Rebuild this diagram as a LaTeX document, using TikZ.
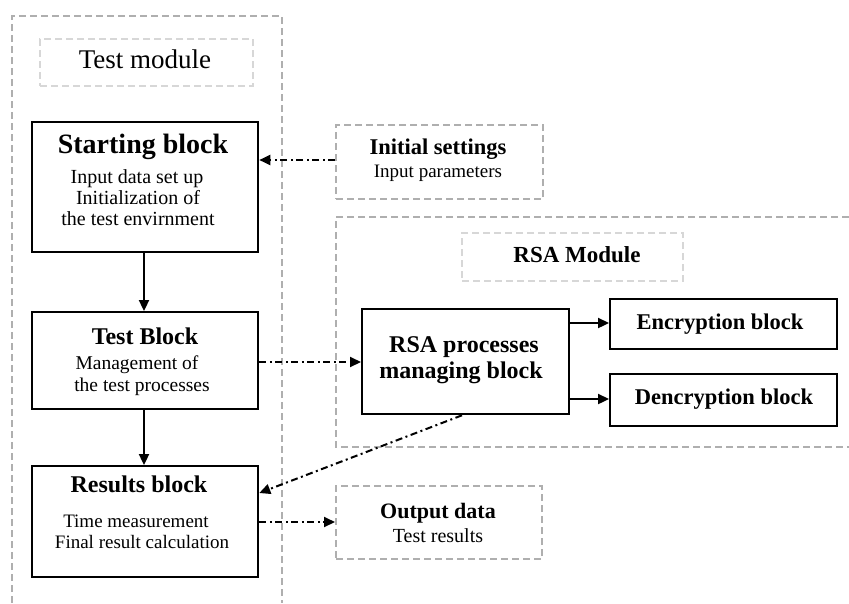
\documentclass[tikz,border=0pt]{standalone}
\usepackage{fontspec}
\setmainfont{Liberation Serif}
\usetikzlibrary{arrows.meta}
\definecolor{dashgray}{RGB}{175,175,175}
\definecolor{lightgray}{RGB}{215,215,215}
\tikzset{
  blk/.style={draw=black, line width=2.3pt, rectangle, inner sep=0pt, anchor=north west},
  ghost/.style={draw=dashgray, line width=2pt, dash pattern=on 7pt off 4pt, rectangle, inner sep=0pt, anchor=north west},
  faint/.style={draw=lightgray, line width=2pt, dash pattern=on 7pt off 4pt, rectangle, inner sep=0pt, anchor=north west},
  frame/.style={draw=dashgray, line width=2pt, dash pattern=on 7pt off 4pt},
  txt/.style={anchor=base, inner sep=0pt},
  solidarrow/.style={draw=black, line width=2.3pt, -{Triangle[length=11pt,width=10pt]}},
  dasharrow/.style={draw=black, line width=2pt, dash pattern=on 7pt off 3.5pt on 2pt off 3.5pt, -{Triangle[length=11pt,width=10pt]}},
}
\begin{document}
\begin{tikzpicture}[x=1pt,y=-1pt]
\useasboundingbox (0,0) rectangle (849,603);
% outer frames
\draw[frame] (12,603) -- (12,16) -- (282,16) -- (282,603);
\draw[frame] (849,217) -- (336,217) -- (336,447) -- (849,447);
% label boxes
\node[faint, minimum width=213pt, minimum height=47pt] (tmlab) at (39,38) {};
\node[txt, font=\fontsize{27}{27}\selectfont] (tmtxt) at (145,68) {Test module};
\node[faint, minimum width=221pt, minimum height=48pt] (rsalab) at (461,232) {};
\node[txt, font=\fontsize{23}{23}\selectfont\bfseries] (rsatxt) at (577,262) {RSA Module};
% Starting block
\node[blk, minimum width=226pt, minimum height=130pt] (start) at (31,121) {};
\node[txt, font=\fontsize{28}{28}\selectfont\bfseries] (st1) at (143,153) {Starting block};
\node[txt, font=\fontsize{20}{20}\selectfont] (st2) at (137,183) {Input data set up};
\node[txt, font=\fontsize{20}{20}\selectfont] (st3) at (138,204) {Initialization of};
\node[txt, font=\fontsize{20}{20}\selectfont] (st4) at (138,225) {the test envirnment};
% Test block
\node[blk, minimum width=226pt, minimum height=97pt] (test) at (31,311) {};
\node[txt, font=\fontsize{24}{24}\selectfont\bfseries] (te1) at (145,344) {Test Block};
\node[txt, font=\fontsize{19.5}{19.5}\selectfont] (te2) at (137,369) {Management of};
\node[txt, font=\fontsize{19.5}{19.5}\selectfont] (te3) at (142,391) {the test processes};
% Results block
\node[blk, minimum width=226pt, minimum height=111pt] (res) at (31,465) {};
\node[txt, font=\fontsize{24}{24}\selectfont\bfseries] (re1) at (139,492) {Results block};
\node[txt, font=\fontsize{19}{19}\selectfont] (re2) at (136,527) {Time measurement};
\node[txt, font=\fontsize{19}{19}\selectfont] (re3) at (142,548) {Final result calculation};
% Initial settings
\node[ghost, minimum width=207pt, minimum height=74pt] (init) at (335,124) {};
\node[txt, font=\fontsize{22.5}{22.5}\selectfont\bfseries] (in1) at (438,154) {Initial settings};
\node[txt, font=\fontsize{19}{19}\selectfont] (in2) at (438,177) {Input parameters};
% Output data
\node[ghost, minimum width=206pt, minimum height=73pt] (out) at (335,485) {};
\node[txt, font=\fontsize{22}{22}\selectfont\bfseries] (ou1) at (438,518) {Output data};
\node[txt, font=\fontsize{20}{20}\selectfont] (ou2) at (438,542) {Test results};
% RSA processes
\node[blk, minimum width=207pt, minimum height=105pt] (rsa) at (361,308) {};
\node[txt, font=\fontsize{24}{24}\selectfont\bfseries] (rs1) at (464,352) {RSA processes};
\node[txt, font=\fontsize{24}{24}\selectfont\bfseries] (rs2) at (461,378) {managing block};
% Encryption / Dencryption
\node[blk, minimum width=227pt, minimum height=50pt] (enc) at (609,298) {};
\node[txt, font=\fontsize{22.5}{22.5}\selectfont\bfseries] (en1) at (720,329) {Encryption block};
\node[blk, minimum width=227pt, minimum height=52pt] (dec) at (609,373) {};
\node[txt, font=\fontsize{22.5}{22.5}\selectfont\bfseries] (de1) at (724,404) {Dencryption block};
% connectors
\draw[dasharrow] (init.west |- 0,160) -- (start.east |- 0,160);
\draw[solidarrow] (start.south -| 144,0) -- (test.north -| 144,0);
\draw[solidarrow] (test.south -| 144,0) -- (res.north -| 144,0);
\draw[dasharrow] (test.east |- 0,362) -- (rsa.west |- 0,362);
\draw[dasharrow] (rsa.south -| 462,0) -- (res.east |- 0,493);
\draw[dasharrow] (res.east |- 0,522) -- (out.west |- 0,522);
\draw[solidarrow] (rsa.east |- 0,323) -- (enc.west |- 0,323);
\draw[solidarrow] (rsa.east |- 0,399) -- (dec.west |- 0,399);
\end{tikzpicture}
\end{document}
